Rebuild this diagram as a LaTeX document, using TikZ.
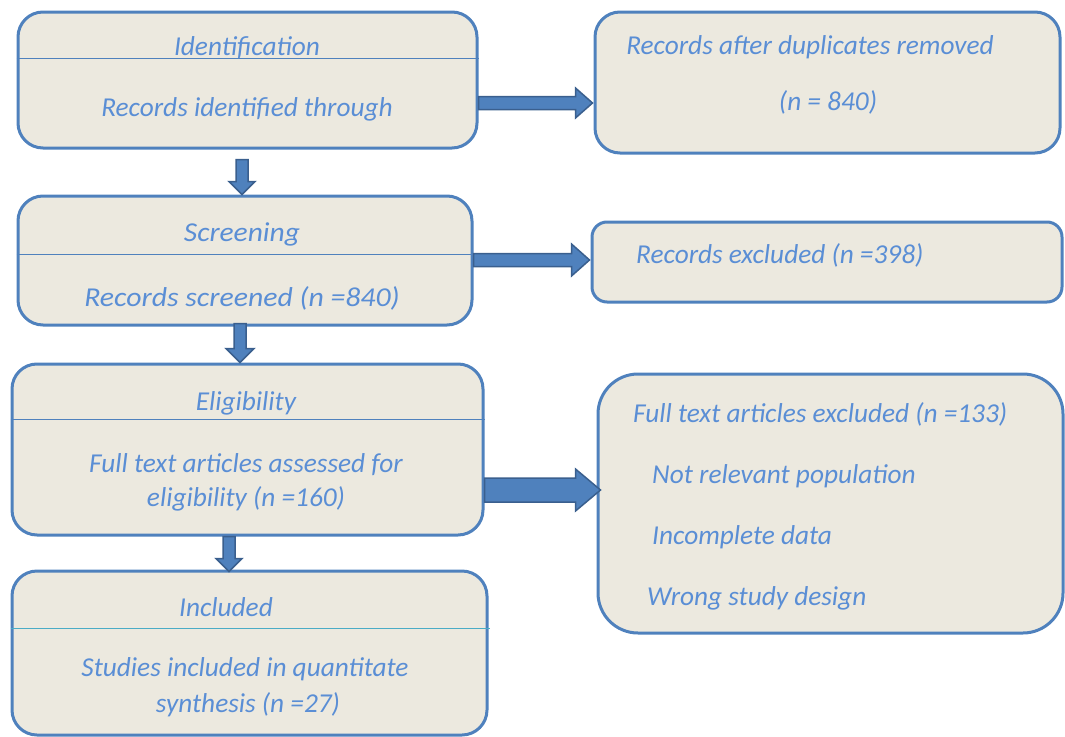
\documentclass[tikz,border=0pt]{standalone}
\usepackage{graphicx}
\usepackage{fontspec}
\setmainfont{Carlito}
\usetikzlibrary{calc}
\definecolor{boxfill}{HTML}{ECE9DF}
\definecolor{boxline}{HTML}{4F81BD}
\definecolor{txt}{HTML}{5A8ED5}
\definecolor{arrline}{HTML}{3A5F8E}
\definecolor{divcyan}{HTML}{4BACC6}
\newcommand\fatarrowH[5]{%
  \draw[fatarr] ($(#1)+(0,#3)$) -- ($(#2)+(-#5,#3)$) -- ($(#2)+(-#5,#4)$) -- (#2)
    -- ($(#2)+(-#5,-#4)$) -- ($(#2)+(-#5,-#3)$) -- ($(#1)+(0,-#3)$) -- cycle;}
\newcommand\fatarrowV[5]{%
  \draw[fatarr] ($(#1)+(#3,0)$) -- ($(#2)+(#3,-#5)$) -- ($(#2)+(#4,-#5)$) -- (#2)
    -- ($(#2)+(-#4,-#5)$) -- ($(#2)+(-#3,-#5)$) -- ($(#1)+(-#3,0)$) -- cycle;}
\begin{document}
\begin{tikzpicture}[x=1pt,y=-1pt,
  box/.style={draw=boxline, fill=boxfill, line width=3pt, rounded corners=25pt, inner sep=0pt},
  lbl/.style={text=txt, font=\fontsize{27.3}{32}\selectfont\itshape, anchor=mid, inner sep=0pt},
  lblw/.style={lbl, anchor=mid west},
  div/.style={draw=boxline, line width=1pt},
  fatarr/.style={fill=boxline, draw=arrline, line width=1.5pt, line join=miter}]
\useasboundingbox (0,0) rectangle (1065,736);

% boxes
\node[box, minimum width=459pt, minimum height=136pt] (b1) at (247.5,80) {};
\node[box, minimum width=465pt, minimum height=141pt] (b2) at (827.5,82.5) {};
\node[box, minimum width=454pt, minimum height=129pt] (b3) at (245,260.5) {};
\node[box, rounded corners=15pt, minimum width=470pt, minimum height=80pt] (b4) at (827,262) {};
\node[box, minimum width=471pt, minimum height=171pt] (b5) at (247.5,449.5) {};
\node[box, rounded corners=40pt, minimum width=465pt, minimum height=259pt] (b6) at (830.5,503.5) {};
\node[box, minimum width=475pt, minimum height=164pt] (b7) at (249.5,653) {};

% dividers
\draw[div] (b1.west |- 0,58) -- (b1.east |- 0,58);
\draw[div] (b3.west |- 0,254) -- (b3.east |- 0,254);
\draw[div] (b5.west |- 0,419) -- (b5.east |- 0,419);
\coordinate (d7r) at (490,628);
\draw[draw=divcyan, line width=1pt] (b7.west |- d7r) -- (d7r);

% texts
\node[lbl] (t1a) at (247,53) {Identification};
\node[lbl] (t1b) at (247,114) {Records identified through};
\node[lbl] (t2a) at (810,52) {Records after duplicates removed};
\node[lbl] (t2b) at (828,108) {(n = 840)};
\node[lbl] (t3a) at (242,239) {\scalebox{1.08}[1]{Screening}};
\node[lbl] (t3b) at (242,304) {\scalebox{1.09}[1]{Records screened (n =840)}};
\node[lblw] (t4) at (636,261) {Records excluded (n =398)};
\node[lbl] (t5a) at (246,408) {Eligibility};
\node[lbl] (t5b) at (246,470) {Full text articles assessed for};
\node[lbl] (t5c) at (246,504) {eligibility (n =160)};
\node[lblw] (t6a) at (633,420) {Full text articles excluded (n =133)};
\node[lblw] (t6b) at (652,481) {Not relevant population};
\node[lblw] (t6c) at (652,542) {Incomplete data};
\node[lblw] (t6d) at (647,603) {Wrong study design};
\node[lbl] (t7a) at (226,614) {Included};
\node[lbl] (t7b) at (245,674) {Studies included in quantitate};
\node[lbl] (t7c) at (248,710) {synthesis (n =27)};

% arrow end points
\coordinate (a1s) at (b1.east |- 0,103);
\coordinate (a1e) at ($(b2.west |- 0,103)+(-1,0)$);
\coordinate (a2s) at (b3.east |- 0,260);
\coordinate (a2e) at ($(b4.west |- 0,260)+(-1,0)$);
\coordinate (a3s) at (b5.east |- 0,490);
\coordinate (a3e) at ($(b6.west |- 0,490)+(4,0)$);
\coordinate (a4s) at ($(b1.south -| 242,0)+(0,10)$);
\coordinate (a4e) at (b3.north -| 242,0);
\coordinate (a5s) at ($(b3.south -| 240,0)+(0,-3)$);
\coordinate (a5e) at (b5.north -| 240,0);
\coordinate (a6s) at (b5.south -| 229,0);
\coordinate (a6e) at ($(b7.north -| 229,0)+(0,2)$);

% arrows
\fatarrowH{a1s}{a1e}{6.5}{15}{17}
\fatarrowH{a2s}{a2e}{6.5}{16}{18}
\fatarrowH{a3s}{a3e}{12}{21}{25}
\fatarrowV{a4s}{a4e}{6}{13}{13}
\fatarrowV{a5s}{a5e}{6}{14}{14}
\fatarrowV{a6s}{a6e}{6}{13}{13}
\end{tikzpicture}
\end{document}
